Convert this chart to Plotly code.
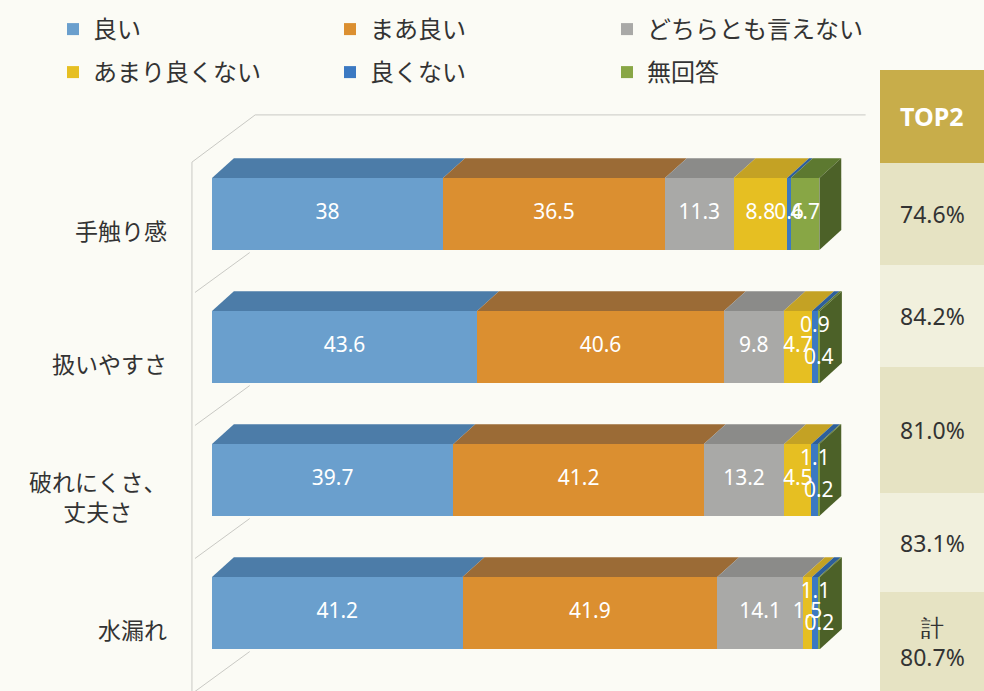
import plotly.graph_objects as go

# ---------------- data ----------------
categories = ["手触り感", "扱いやすさ", "破れにくさ、<br>丈夫さ", "水漏れ"]
series_names = ["良い", "まあ良い", "どちらとも言えない", "あまり良くない", "良くない", "無回答"]
good = [38, 43.6, 39.7, 41.2]
fairly_good = [36.5, 40.6, 41.2, 41.9]
neutral = [11.3, 9.8, 13.2, 14.1]
not_very_good = [8.8, 4.7, 4.5, 1.5]
not_good = [0.6, 0.9, 1.1, 1.1]
no_answer = [4.7, 0.4, 0.2, 0.2]
top2_header = "TOP2"
top2_labels = ["74.6%", "84.2%", "81.0%", "83.1%", "計<br>80.7%"]

# ---------------- style ----------------
front_colors = ["#6a9fcd", "#db8f30", "#a9a9a7", "#e6bf22", "#3b79c2", "#88a645"]
top_colors = ["#4c7ca8", "#9b6b36", "#8b8b89", "#c4a224", "#2d5f9b", "#5d7930"]
side_color = "#4c6128"
bg = "#fbfbf5"
JP = "Noto Sans CJK JP"

W, H = 984, 691
X0PX, PXU = 212, 6.08      # pixel of x=0, pixels per unit
Y0PX, PYU = 214, 133       # pixel of first category, pixels per category
xr = [-X0PX / PXU, (W - X0PX) / PXU]
yr = [(H - Y0PX) / PYU, -Y0PX / PYU]
BW = 0.54                  # bar thickness (category units)
DX, DY = 3.6, 0.15         # 3D depth offsets

all_vals = [good, fairly_good, neutral, not_very_good, not_good, no_answer]
ys = list(range(len(categories)))

fig = go.Figure()
for k, (name, vals) in enumerate(zip(series_names, all_vals)):
    fig.add_trace(go.Bar(
        y=ys, x=vals, orientation="h", name=name, width=BW,
        marker=dict(color=front_colors[k], line=dict(width=0)),
        hoverinfo="skip", legend="legend" if k < 3 else "legend2",
    ))

# back wall / floor guide lines
wall = dict(color="#c9c9c4", width=1)
wx_left, wx_back = -3.3, 7.1
fig.add_shape(type="line", xref="x", yref="y", x0=wx_left, y0=-0.39, x1=wx_left, y1=yr[0], line=wall, layer="below")
fig.add_shape(type="line", xref="x", yref="y", x0=wx_left, y0=-0.39, x1=wx_back, y1=-0.745, line=wall, layer="below")
fig.add_shape(type="line", xref="x", yref="y", x0=wx_back, y0=-0.745, x1=107.5, y1=-0.745, line=wall, layer="below")
for i in ys:
    fig.add_shape(type="line", xref="x", yref="y", x0=-2.8, y0=i + 0.59, x1=6.2, y1=i + 0.29,
                  line=wall, layer="below")

# 3D faces & labels
lx, ly, lt = [], [], []
for i in ys:
    cum = 0.0
    yt = i - BW / 2
    yb = i + BW / 2
    row = [v[i] for v in all_vals]
    both_tiny = row[4] < 2 and row[5] < 2
    for k, v in enumerate(row):
        a, b = cum, cum + v
        fig.add_shape(
            type="path", xref="x", yref="y", layer="below",
            path=f"M{a:.3f},{yt:.3f} L{b:.3f},{yt:.3f} L{b+DX:.3f},{yt-DY:.3f} L{a+DX:.3f},{yt-DY:.3f} Z",
            fillcolor=top_colors[k], line=dict(width=0))
        off = 0.0
        if both_tiny and k == 4:
            off = -0.15
        if both_tiny and k == 5:
            off = 0.09
        lx.append((a + b) / 2)
        ly.append(i + off)
        lt.append(f"{v:g}")
        cum = b
    fig.add_shape(
        type="path", xref="x", yref="y", layer="below",
        path=f"M{cum:.3f},{yt:.3f} L{cum+DX:.3f},{yt-DY:.3f} L{cum+DX:.3f},{yb-DY:.3f} L{cum:.3f},{yb:.3f} Z",
        fillcolor=side_color, line=dict(width=0))

fig.add_trace(go.Scatter(
    x=lx, y=ly, text=lt, mode="text", showlegend=False, hoverinfo="skip", cliponaxis=False,
    textfont=dict(color="white", size=21, family="Noto Sans")))

# category labels
for i, c in enumerate(categories):
    fig.add_annotation(x=-7.0, y=i, xref="x", yref="y", text=c, showarrow=False,
                       xanchor="right", align="center", yshift=-16,
                       font=dict(family=JP, size=23, color="#333333"))

# TOP2 panel
px0 = 880 / W
pxc = (px0 + 1) / 2
fig.add_shape(type="rect", xref="paper", yref="paper", x0=px0, x1=1,
              y0=1 - 163 / H, y1=1 - 70 / H, fillcolor="#c8ad4a", line=dict(width=0))
fig.add_annotation(xref="paper", yref="paper", x=pxc, y=1 - 116 / H, text=f"<b>{top2_header}</b>",
                   showarrow=False, xanchor="center", yanchor="middle",
                   font=dict(family="Noto Sans", size=25, color="white"))
bounds = [163, 265, 367, 493, 592, 691]
for j, lab in enumerate(top2_labels):
    t, b = bounds[j], bounds[j + 1]
    fig.add_shape(type="rect", xref="paper", yref="paper", x0=px0, x1=1,
                  y0=1 - b / H, y1=1 - t / H,
                  fillcolor="#e6e3c3" if j % 2 == 0 else "#f1f0dd", line=dict(width=0))
    fig.add_annotation(xref="paper", yref="paper", x=pxc, y=1 - (t + b) / 2 / H,
                       text=lab, showarrow=False, align="center", xanchor="center", yanchor="middle",
                       font=dict(family="Noto Sans", size=23, color="#333333"))

leg = dict(orientation="h", xanchor="left", yanchor="top", entrywidth=232,
           entrywidthmode="pixels", bgcolor="rgba(0,0,0,0)", traceorder="normal",
           font=dict(family=JP, size=24, color="#333333"))
fig.update_layout(
    width=W, height=H, margin=dict(l=0, r=0, t=0, b=0),
    paper_bgcolor=bg, plot_bgcolor=bg, barmode="stack", bargap=0,
    xaxis=dict(range=xr, domain=[0, 1], visible=False, fixedrange=True),
    yaxis=dict(range=yr, domain=[0, 1], visible=False, fixedrange=True),
    legend=dict(leg, x=53 / W, y=1 - 7 / H),
    legend2=dict(leg, x=53 / W, y=1 - 50 / H),
    showlegend=True,
)
fig.write_html("out.html", config={"displayModeBar": False},
               post_script="document.body.style.margin='0px';document.body.style.overflow='hidden';")
